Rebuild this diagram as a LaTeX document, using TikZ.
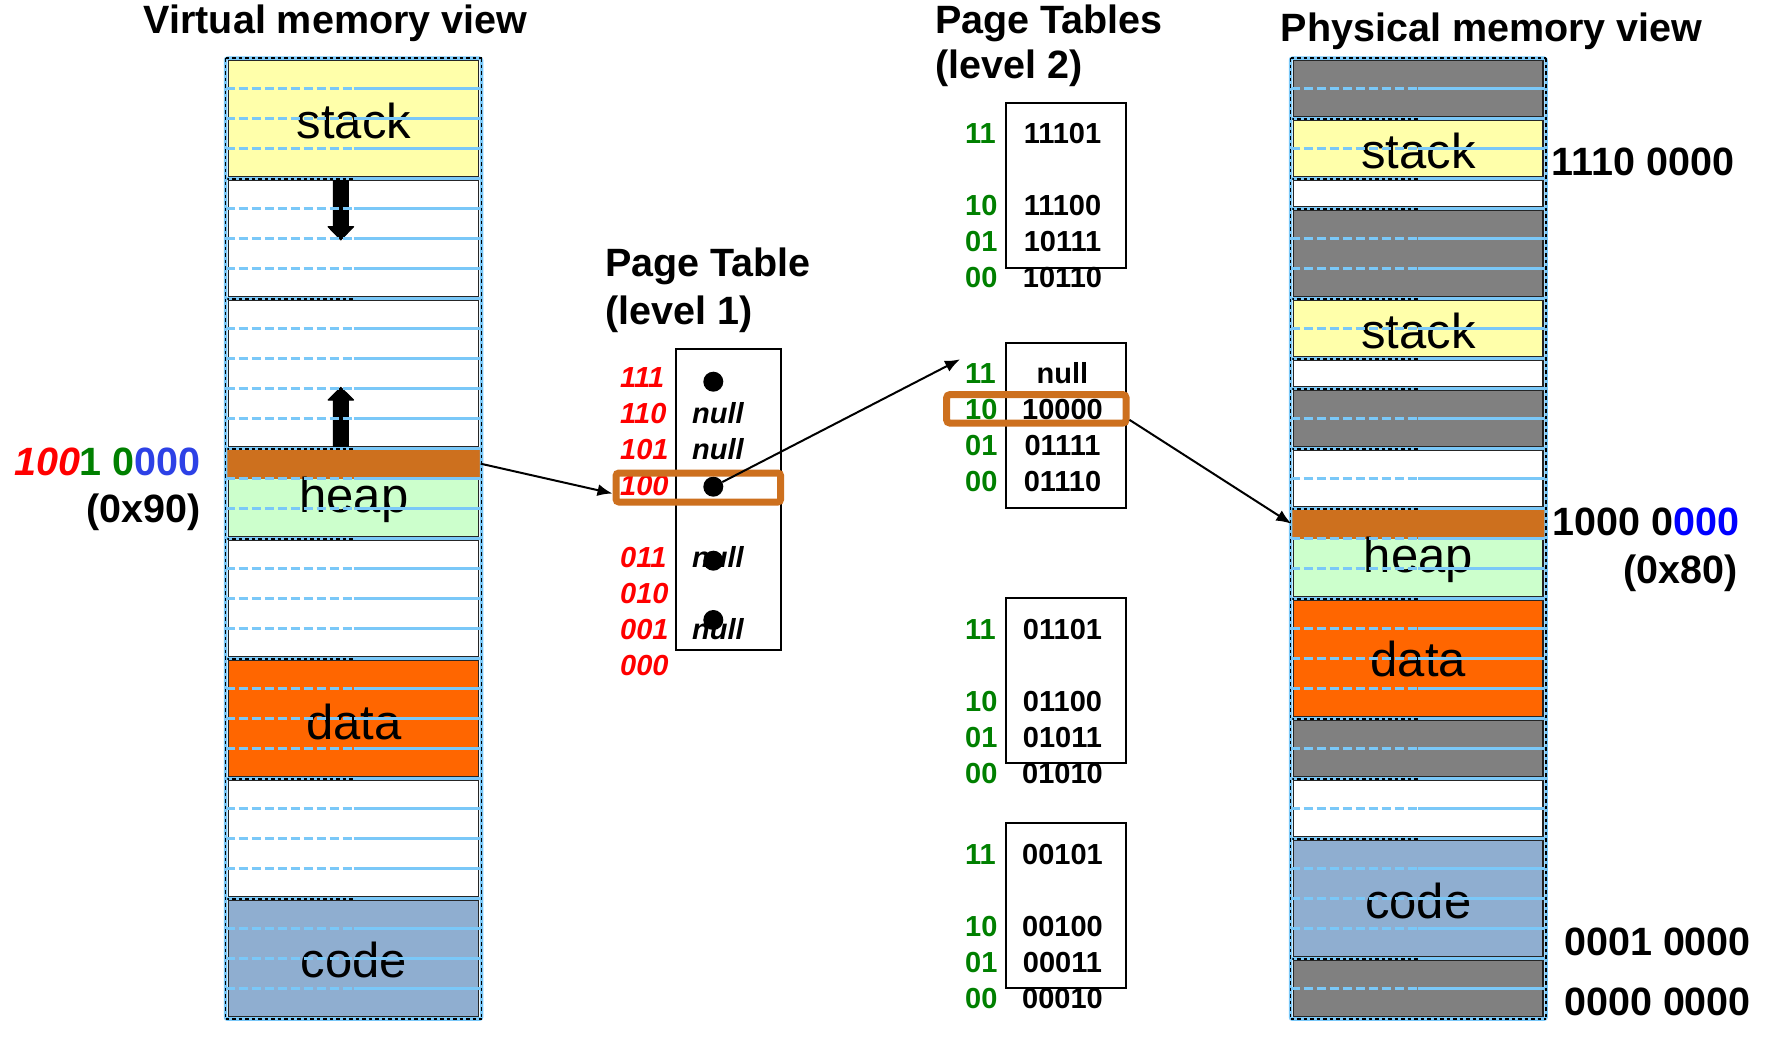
\documentclass[tikz,border=0pt]{standalone}
\usepackage{fontspec}
\setmainfont{Liberation Sans}
\usetikzlibrary{arrows.meta}
\definecolor{stackc}{RGB}{255,255,170}
\definecolor{heapc}{RGB}{204,255,204}
\definecolor{datac}{RGB}{255,102,0}
\definecolor{codec}{RGB}{143,174,208}
\definecolor{grayc}{RGB}{128,128,128}
\definecolor{rowc}{RGB}{122,200,248}
\definecolor{hlc}{RGB}{205,112,30}
\definecolor{redc}{RGB}{255,0,0}
\definecolor{greenc}{RGB}{0,128,0}
\definecolor{bluec}{RGB}{45,65,230}
\definecolor{pbluec}{RGB}{0,0,255}
\tikzset{
  seg/.style={draw=black!85, line width=1.2pt},
  rowdash/.style={draw=rowc, line width=2.7pt, dash pattern=on 9pt off 4pt},
  rowsolid/.style={draw=rowc, line width=2.7pt},
  edgeblue/.style={draw=rowc, line width=3.5pt},
  edgeblack/.style={draw=black, line width=1.8pt, dash pattern=on 3.5pt off 3pt},
  band/.style={fill=hlc, inner sep=0pt, minimum height=30pt},
  title/.style={font=\fontsize{39.5}{47}\selectfont\bfseries, inner sep=0pt},
  seglabel/.style={font=\fontsize{49}{58}\selectfont, inner sep=0pt, anchor=base},
  addr/.style={font=\fontsize{39.5}{47}\selectfont\bfseries, inner sep=0pt},
  idxa/.style={font=\fontsize{29}{34}\selectfont\bfseries\itshape, text=redc, inner sep=0pt, anchor=base west},
  nullv/.style={font=\fontsize{29}{34}\selectfont\bfseries\itshape, inner sep=0pt, anchor=base},
  idxb/.style={font=\fontsize{29}{34}\selectfont\bfseries, text=greenc, inner sep=0pt, anchor=base west},
  valb/.style={font=\fontsize{29}{34}\selectfont\bfseries, inner sep=0pt, anchor=base},
  tbox/.style={draw=black, line width=2pt, inner sep=0pt},
  hlbox/.style={draw=hlc, line width=7pt, rounded corners=3pt, inner sep=0pt},
  dotn/.style={circle, fill=black, inner sep=0pt, minimum size=20pt},
  conn/.style={-{Latex[length=15pt,width=12pt]}, line width=2pt},
  fatarrow/.style={fill=black, draw=black, line width=1pt, line join=round},
}
\newcommand\memsegs[3]{%
  \foreach \sa/\na/\fc in {#3}{%
    \path[seg, fill=\fc] ({#1+3}, {58.7+30*\sa+2}) rectangle ({#2-3}, {58.7+30*(\sa+\na)-2});
  }}
\newcommand\memgrid[3]{%
  \pgfmathsetmacro\colmid{(#1+#2)/2}%
  \foreach \k in {1,...,31}{%
    \draw[rowdash] (#1, {58.7+30*\k}) -- (\colmid, {58.7+30*\k});
    \draw[rowsolid] (\colmid, {58.7+30*\k}) -- (#2, {58.7+30*\k});
  }%
  \foreach \k in {#3}{%
    \draw[rowsolid, line width=3.2pt] (#1, {58.7+30*\k}) -- (#2, {58.7+30*\k});
    \draw[edgeblack] (#1, {58.7+30*\k}) -- (\colmid, {58.7+30*\k});
  }%
  \draw[edgeblue, rounded corners=2pt] (#1,58.2) rectangle (#2,1019.2);
  \draw[edgeblack] (#1,58.2) -- (#1,1019.2);
  \draw[edgeblack] (#2,58.2) -- (#2,1019.2);
  \draw[edgeblack] (#1,58.2) -- (#2,58.2);
  \draw[edgeblack] (#1,1019.2) -- (#2,1019.2);
}
\begin{document}
\begin{tikzpicture}[x=1pt, y=-1pt]
\fill[white] (0,0) rectangle (1777,1048);
\useasboundingbox (0,0) rectangle (1777,1048);

% ---------------- Virtual memory ----------------
\node[title, anchor=base] (vtitle) at (335.5,33.3) {Virtual memory view};
\memsegs{225.5}{481.5}{0/4/stackc, 4/4/white, 8/5/white, 13/3/heapc, 16/4/white, 20/4/datac, 24/4/white, 28/4/codec}
\node[band, minimum width=254pt] (vband) at (353.5,463.7) {};
\filldraw[fatarrow] (333.3,179) -- (348.3,179) -- (348.3,226.7) -- (353.6,226.7) -- (340.8,240) -- (328,226.7) -- (333.3,226.7) -- cycle;
\filldraw[fatarrow] (333.3,446.7) -- (348.3,446.7) -- (348.3,400) -- (353.6,400) -- (340.8,387.3) -- (328,400) -- (333.3,400) -- cycle;
\node[seglabel] (vstack) at (354,138.5) {stack};
\node[seglabel] (vheap) at (354,512) {heap};
\node[seglabel] (vdata) at (354,739.3) {data};
\node[seglabel] (vcode) at (354,977.7) {code};
\memgrid{225.5}{481.5}{0,4,8,13,16,20,24,28,32}
\node[addr, anchor=base east] (vaddr) at (201,475) {\textcolor{redc}{\itshape 100}\textcolor{greenc}{1 0}\textcolor{bluec}{000}};
\node[addr, anchor=base east] (vhex) at (201,522.7) {(0x90)};

% ---------------- Page table level 1 ----------------
\node[title, anchor=base west] (ptat) at (605,276.7) {Page Table};
\node[title, anchor=base west] (ptab) at (605,325) {(level 1)};
\node[idxa] (ia7) at (620,387.3) {111};
\node[idxa] (ia6) at (620,423.3) {110};
\node[idxa] (ia5) at (620,459.3) {101};
\node[idxa] (ia4) at (620,495.3) {100};
\node[idxa] (ia3) at (620,567.3) {011};
\node[idxa] (ia2) at (620,603.3) {010};
\node[idxa] (ia1) at (620,639.3) {001};
\node[idxa] (ia0) at (620,675.3) {000};
\node[nullv] (na6) at (718,423.3) {null};
\node[nullv] (na5) at (718,459.3) {null};
\node[nullv] (na3) at (718,567.3) {null};
\node[nullv] (na1) at (718,639.3) {null};
\node[dotn] (d7) at (713.3,381.7) {};
\node[dotn] (d4) at (713.3,486.7) {};
\node[dotn] (d3) at (713.3,560.7) {};
\node[dotn] (d1) at (713.3,620) {};
\node[tbox, minimum width=105.3pt, minimum height=300.7pt] (pta) at (728.35,499.65) {};
\node[hlbox, minimum width=164.7pt, minimum height=29pt] (hla) at (698.35,487.5) {};

% ---------------- Page tables level 2 ----------------
\node[title, anchor=base west] (ptbt) at (935,33.5) {Page Tables};
\node[title, anchor=base west] (ptbb) at (935,79) {(level 2)};
% table 1
\node[idxb] (ib13) at (965,143.5) {11};
\node[idxb] (ib12) at (965,215.5) {10};
\node[idxb] (ib11) at (965,251.5) {01};
\node[idxb] (ib10) at (965,287.5) {00};
\node[valb] (vb13) at (1062.5,143.5) {11101};
\node[valb] (vb12) at (1062.5,215.5) {11100};
\node[valb] (vb11) at (1062.5,251.5) {10111};
\node[valb] (vb10) at (1062.5,287.5) {10110};
\node[tbox, minimum width=120pt, minimum height=165pt] (ptb1) at (1066,185.5) {};
% table 2
\node[idxb] (ib23) at (965,383.5) {11};
\node[idxb] (ib22) at (965,419.5) {10};
\node[idxb] (ib21) at (965,455.5) {01};
\node[idxb] (ib20) at (965,491.5) {00};
\node[valb] (vb23) at (1062.5,383.5) {null};
\node[valb] (vb22) at (1062.5,419.5) {10000};
\node[valb] (vb21) at (1062.5,455.5) {01111};
\node[valb] (vb20) at (1062.5,491.5) {01110};
\node[tbox, minimum width=120pt, minimum height=165pt] (ptb2) at (1066,425.8) {};
% table 3
\node[idxb] (ib33) at (965,639) {11};
\node[idxb] (ib32) at (965,711) {10};
\node[idxb] (ib31) at (965,747) {01};
\node[idxb] (ib30) at (965,783) {00};
\node[valb] (vb33) at (1062.5,639) {01101};
\node[valb] (vb32) at (1062.5,711) {01100};
\node[valb] (vb31) at (1062.5,747) {01011};
\node[valb] (vb30) at (1062.5,783) {01010};
\node[tbox, minimum width=120pt, minimum height=165pt] (ptb3) at (1066,680.8) {};
% table 4
\node[idxb] (ib43) at (965,864) {11};
\node[idxb] (ib42) at (965,936) {10};
\node[idxb] (ib41) at (965,972) {01};
\node[idxb] (ib40) at (965,1008) {00};
\node[valb] (vb43) at (1062.5,864) {00101};
\node[valb] (vb42) at (1062.5,936) {00100};
\node[valb] (vb41) at (1062.5,972) {00011};
\node[valb] (vb40) at (1062.5,1008) {00010};
\node[tbox, minimum width=120pt, minimum height=165pt] (ptb4) at (1066,905.8) {};
\node[hlbox, minimum width=179.3pt, minimum height=28.3pt] (hlb) at (1036.35,408.85) {};

% ---------------- Physical memory ----------------
\node[title, anchor=base west] (ptitle) at (1280.7,41.7) {Physical memory view};
\memsegs{1290.5}{1546}{0/2/grayc, 2/2/stackc, 4/1/white, 5/3/grayc, 8/2/stackc, 10/1/white, 11/2/grayc, 13/2/white, 15/3/heapc, 18/4/datac, 22/2/grayc, 24/2/white, 26/4/codec, 30/2/grayc}
\node[band, minimum width=253.5pt] (pband) at (1418.25,523.7) {};
\node[seglabel] (pstacka) at (1418.3,168.3) {stack};
\node[seglabel] (pstackb) at (1418.3,348.3) {stack};
\node[seglabel] (pheap) at (1418.3,572.7) {heap};
\node[seglabel] (pdata) at (1418.3,676.7) {data};
\node[seglabel] (pcode) at (1418.3,918.3) {code};
\memgrid{1290.5}{1546}{0,2,4,5,8,10,11,13,15,18,22,24,26,30,32}
\node[addr, anchor=base west] (pa1) at (1551.7,175.7) {1110 0000};
\node[addr, anchor=base west] (pa2) at (1552.7,535) {1000 0\textcolor{pbluec}{000}};
\node[addr, anchor=base east] (pa2h) at (1738,583.3) {(0x80)};
\node[addr, anchor=base west] (pa3) at (1564,955) {0001 0000};
\node[addr, anchor=base west] (pa4) at (1564,1015) {0000 0000};

% ---------------- Connectors ----------------
\coordinate (ptbin) at (960,359.3);
\draw[conn] (vband.east) -- ([yshift=-6pt]hla.west);
\draw[conn] (d4) -- (ptbin);
\draw[conn] ([yshift=-11pt]hlb.east) -- (pband.west);
\end{tikzpicture}
\end{document}
